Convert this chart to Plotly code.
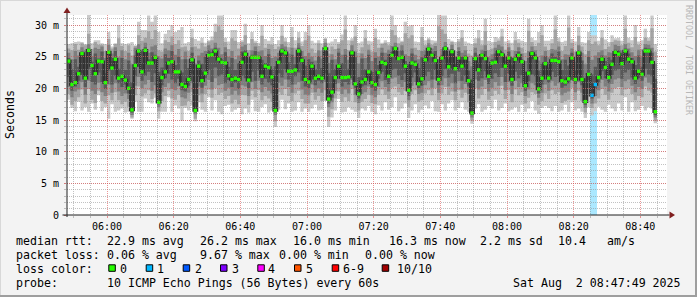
import plotly.graph_objects as go
import pandas as pd

# ---------------- data ----------------
START = "2025-08-02 05:48:00"
END = "2025-08-02 08:48:00"
Y_MAX = 31.58

median_ms = [
    24.3, 20.6, 20.9, 22.3, 25.5, 21.6, 26.0, 23.6, 22.3, 24.3, 24.2, 20.9, 25.7, 23.2, 24.6, 21.6, 21.9, 21.3, 20.0, 16.6,
    23.6, 25.9, 22.6, 26.0, 24.0, 24.0, 24.9, 17.8, 21.7, 22.6, 24.0, 24.2, 22.6, 22.6, 20.6, 20.3,
    21.4, 24.5, 16.5, 23.5, 21.2, 22.4, 25.2, 25.3, 25.9, 24.6, 24.1, 24.0, 22.0, 21.4, 21.6, 21.4, 24.1, 25.4, 21.3, 24.9,
    24.9, 24.9, 21.9, 23.5, 23.3, 21.8, 16.5, 24.1, 25.9, 25.6, 22.7, 22.7, 22.9, 25.9, 24.4, 21.4,
    21.0, 23.5, 21.6, 21.9, 21.6, 26.3, 18.3, 19.4, 21.7, 23.5, 21.7, 21.7, 21.8, 25.6, 20.7, 19.1, 21.0, 21.4, 22.6, 20.9,
    20.6, 22.5, 24.1, 23.9, 21.9, 25.2, 26.3, 24.7, 24.9, 23.5, 19.7, 24.0, 23.8, 20.7, 21.5, 24.5,
    26.2, 25.2, 24.4, 21.4, 24.8, 26.3, 23.4, 25.8, 23.1, 24.8, 23.5, 24.8, 21.2, 16.1, 24.7, 22.9, 25.2, 24.7, 21.9, 24.0,
    24.1, 25.8, 25.3, 23.5, 24.8, 21.4, 24.6, 25.2, 24.2, 20.4, 22.4, 25.5, 24.8, 19.9, 21.6, 23.9,
    21.6, 24.4, 24.4, 24.2, 21.2, 21.0, 21.5, 24.8, 21.4, 25.6, 21.4, 17.9, 22.2, 18.9, 20.6, 21.7, 24.6, 23.3, 21.7, 23.8,
    25.7, 25.4, 23.9, 25.9, 24.6, 24.2, 21.6, 22.7, 22.2, 25.9, 25.9, 24.1, 16.3,
]

# sorted ping values per minute (10 pings): p1 lowest ... p10 highest
ping_p10 = [
    27.0, 27.1, 27.3, 27.4, 27.3, 27.0, 31.6, 27.1, 27.6, 27.6, 27.1, 27.0, 28.9, 26.6, 27.1, 30.0, 27.1, 27.0, 27.1, 27.3,
    26.8, 30.5, 29.2, 29.2, 31.5, 30.5, 31.5, 28.9, 27.1, 28.6, 29.2, 30.0, 28.9, 29.2, 29.7, 27.1,
    27.3, 29.4, 27.8, 27.5, 28.0, 27.2, 27.6, 28.2, 30.2, 31.5, 31.5, 28.0, 27.4, 29.2, 29.2, 27.3, 27.6, 30.2, 27.1, 28.9,
    27.5, 27.2, 30.0, 27.8, 27.5, 28.1, 27.0, 27.6, 30.0, 28.0, 27.3, 29.7, 27.6, 28.9, 27.4, 28.9,
    30.0, 27.5, 27.2, 27.6, 27.1, 28.0, 27.2, 27.4, 27.8, 27.3, 28.5, 31.5, 27.6, 27.9, 30.0, 27.2, 27.4, 29.2, 27.5, 27.4,
    29.4, 27.7, 27.2, 27.6, 27.3, 31.5, 30.0, 28.0, 27.5, 30.5, 29.8, 30.0, 27.4, 27.3, 29.7, 27.6,
    28.0, 27.6, 27.5, 31.6, 31.5, 31.5, 27.8, 27.5, 27.3, 27.8, 29.2, 27.4, 27.2, 27.0, 27.9, 29.2, 27.6, 31.0, 27.5, 27.3,
    28.1, 27.9, 29.4, 27.4, 27.6, 27.2, 28.9, 27.8, 27.5, 27.3, 31.0, 28.0, 27.6, 28.9, 30.0, 27.5,
    27.5, 27.8, 31.5, 28.0, 27.3, 27.5, 31.5, 27.8, 27.4, 29.7, 27.3, 27.2, 28.9, 28.4, 28.4, 27.5, 29.2, 27.7, 27.3, 28.4,
    27.9, 28.0, 27.5, 31.5, 28.0, 27.6, 30.0, 27.4, 27.6, 29.4, 28.0, 31.5, 27.0,
]

ping_p9 = [
    26.3, 26.0, 27.0, 26.1, 27.1, 26.8, 28.6, 26.2, 27.3, 26.9, 26.9, 25.9, 27.8, 26.3, 27.0, 27.9, 26.7, 25.9, 26.8, 25.2,
    26.7, 28.4, 27.5, 28.0, 29.0, 27.8, 29.2, 26.0, 25.8, 27.6, 27.3, 28.2, 27.0, 27.6, 26.5, 26.6,
    25.9, 28.0, 26.6, 26.3, 27.2, 26.6, 27.4, 27.6, 28.9, 29.8, 29.2, 27.3, 26.2, 27.9, 27.5, 26.3, 27.3, 28.4, 26.0, 27.8,
    27.2, 26.7, 28.3, 26.4, 27.0, 26.9, 26.2, 26.6, 28.3, 27.4, 26.5, 28.1, 26.4, 28.0, 26.7, 27.6,
    28.3, 26.3, 25.6, 27.1, 25.9, 27.8, 25.5, 26.6, 26.2, 27.0, 27.6, 29.3, 26.0, 27.5, 28.2, 25.6, 26.5, 27.9, 26.9, 25.8,
    28.0, 26.4, 27.0, 27.2, 26.8, 29.2, 28.4, 27.1, 27.3, 28.7, 27.9, 28.4, 26.4, 26.0, 28.1, 26.8,
    27.7, 26.9, 27.2, 29.8, 29.3, 28.6, 26.2, 27.3, 25.9, 27.4, 28.0, 26.7, 25.5, 25.2, 27.1, 27.9, 26.8, 29.0, 26.0, 26.3,
    27.3, 27.5, 28.2, 26.1, 27.1, 26.0, 27.6, 27.2, 26.4, 25.6, 29.1, 27.3, 26.7, 27.2, 28.4, 26.6,
    26.0, 27.1, 29.3, 27.4, 25.9, 26.7, 29.6, 27.2, 25.8, 28.3, 26.6, 25.4, 27.6, 27.0, 27.4, 26.8, 28.0, 26.2, 26.6, 27.3,
    27.6, 27.5, 26.8, 29.4, 27.2, 26.5, 28.1, 26.9, 26.2, 28.0, 27.5, 29.5, 25.8,
]

ping_p8 = [
    25.6, 24.6, 25.9, 25.2, 26.5, 26.0, 27.0, 25.1, 26.4, 26.2, 26.6, 24.8, 26.9, 25.5, 26.5, 24.9, 26.0, 24.6, 25.6, 23.8,
    26.4, 27.0, 25.8, 27.2, 25.6, 26.6, 26.8, 24.9, 24.7, 26.3, 26.0, 26.8, 25.3, 26.2, 24.6, 25.8,
    24.6, 26.5, 23.9, 25.2, 25.6, 25.9, 26.8, 26.3, 27.2, 26.4, 25.4, 26.5, 25.0, 25.9, 24.6, 25.2, 26.6, 26.9, 24.7, 26.0,
    26.6, 25.8, 26.0, 25.1, 26.2, 24.8, 25.0, 25.6, 27.0, 26.6, 25.5, 26.4, 25.0, 27.1, 25.9, 25.1,
    25.6, 25.0, 24.4, 26.0, 24.7, 27.2, 24.0, 25.4, 24.6, 26.3, 25.3, 26.2, 24.5, 26.8, 25.8, 23.9, 25.5, 24.8, 26.1, 24.3,
    25.7, 25.0, 26.4, 25.6, 26.1, 26.7, 27.2, 25.9, 26.8, 25.4, 25.1, 26.3, 25.3, 24.6, 25.9, 26.0,
    27.1, 26.3, 26.7, 24.6, 26.2, 27.3, 25.4, 26.9, 25.0, 26.5, 25.6, 26.0, 24.3, 23.5, 26.4, 25.3, 26.1, 26.8, 24.9, 25.4,
    26.4, 26.9, 26.6, 25.2, 26.5, 24.9, 25.9, 26.5, 25.5, 24.3, 25.9, 26.6, 26.0, 24.4, 25.2, 25.9,
    24.9, 26.2, 26.1, 26.6, 24.6, 25.4, 25.3, 26.3, 24.2, 26.8, 25.6, 23.8, 25.9, 24.5, 25.2, 25.7, 26.0, 25.2, 25.7, 25.6,
    26.9, 26.7, 26.0, 27.0, 26.3, 25.7, 25.1, 26.1, 24.9, 27.0, 26.9, 26.4, 23.9,
]

ping_p7 = [
    24.8, 23.0, 24.6, 23.4, 25.8, 24.9, 26.3, 24.2, 25.5, 24.7, 25.8, 22.4, 26.0, 24.3, 25.9, 23.1, 24.8, 22.9, 24.4, 21.0,
    25.2, 26.2, 24.0, 26.5, 24.6, 25.7, 25.3, 22.6, 23.3, 25.4, 24.8, 25.9, 23.7, 25.0, 22.5, 24.6,
    23.2, 25.6, 20.8, 24.4, 23.9, 25.0, 26.0, 25.7, 26.4, 25.1, 24.6, 25.7, 23.4, 24.8, 22.9, 24.0, 25.8, 26.0, 22.8, 25.3,
    25.9, 25.2, 24.5, 24.0, 25.4, 23.0, 23.5, 24.7, 26.3, 26.0, 24.1, 25.3, 23.8, 26.4, 25.0, 23.6,
    24.6, 24.2, 23.0, 25.1, 23.2, 26.6, 22.4, 24.5, 23.0, 25.6, 24.0, 25.3, 23.1, 26.0, 24.9, 21.8, 24.7, 23.0, 25.3, 22.6,
    24.8, 23.7, 25.6, 24.5, 25.4, 25.8, 26.6, 25.0, 26.0, 24.3, 23.8, 25.5, 24.4, 23.2, 24.9, 25.3,
    26.5, 25.6, 25.9, 23.0, 25.3, 26.7, 24.6, 26.2, 24.0, 25.9, 24.5, 25.2, 22.8, 21.2, 25.6, 24.1, 25.5, 25.9, 23.5, 24.6,
    25.5, 26.1, 25.7, 24.4, 25.8, 23.6, 25.0, 25.8, 24.6, 22.6, 24.8, 25.9, 25.4, 22.8, 23.9, 25.1,
    23.3, 25.5, 25.0, 25.8, 22.9, 24.5, 23.6, 25.6, 22.8, 26.0, 24.4, 21.6, 25.0, 22.2, 23.4, 24.8, 25.2, 24.3, 24.9, 24.5,
    26.1, 26.0, 25.3, 26.3, 25.5, 24.8, 23.7, 25.2, 23.4, 26.4, 26.3, 25.6, 21.5,
]

ping_p4 = [
    21.8, 19.6, 20.3, 21.2, 22.4, 20.2, 23.0, 21.0, 20.6, 22.5, 21.0, 19.9, 22.8, 20.6, 22.0, 20.8, 20.2, 20.6, 19.2, 16.2,
    21.9, 23.4, 21.2, 22.0, 22.6, 21.0, 22.4, 17.5, 20.5, 21.6, 22.3, 21.4, 20.8, 21.5, 19.7, 19.5,
    20.4, 22.3, 16.2, 21.8, 20.1, 21.6, 22.9, 21.0, 23.3, 21.9, 22.2, 20.8, 21.3, 20.2, 20.9, 19.9, 22.0, 21.6, 20.0, 22.6,
    21.2, 22.8, 20.6, 21.5, 20.9, 20.5, 16.2, 22.4, 21.7, 23.0, 21.4, 20.6, 21.9, 22.5, 21.2, 20.3,
    20.0, 21.9, 20.5, 21.2, 20.8, 22.4, 17.6, 18.5, 20.7, 22.2, 20.3, 21.0, 20.6, 22.8, 20.1, 18.4, 20.3, 20.5, 21.6, 20.1,
    19.6, 21.5, 22.6, 21.3, 20.7, 22.9, 23.1, 22.0, 21.3, 22.4, 18.8, 21.7, 22.5, 20.0, 20.4, 21.9,
    22.6, 21.4, 22.9, 20.5, 21.9, 23.0, 21.7, 22.3, 20.8, 22.6, 21.2, 22.0, 20.3, 15.8, 22.8, 21.2, 21.6, 22.7, 20.7, 21.5,
    22.4, 21.8, 23.2, 21.0, 22.3, 20.4, 22.6, 21.6, 22.1, 19.6, 21.1, 22.2, 21.9, 19.2, 20.6, 22.0,
    20.9, 22.6, 21.8, 22.0, 20.1, 20.4, 20.8, 22.9, 20.7, 22.4, 20.5, 17.4, 21.3, 18.4, 19.9, 20.9, 22.7, 21.6, 20.8, 22.1,
    22.8, 23.0, 21.5, 22.5, 22.9, 21.7, 20.7, 21.6, 21.2, 23.1, 22.2, 21.9, 15.8,
]

ping_p3 = [
    20.2, 18.6, 19.5, 19.8, 21.0, 19.0, 21.2, 19.6, 19.1, 20.9, 19.4, 18.8, 20.6, 19.3, 20.8, 19.5, 18.8, 19.2, 18.3, 15.8,
    20.4, 21.8, 20.0, 20.6, 21.3, 19.6, 20.5, 17.0, 19.4, 20.2, 20.8, 19.9, 19.7, 20.3, 18.6, 18.4,
    19.3, 20.8, 15.9, 20.3, 19.2, 20.4, 21.3, 19.8, 21.6, 20.5, 20.7, 19.6, 20.1, 19.0, 19.6, 18.9, 20.5, 20.3, 18.8, 21.0,
    19.9, 21.2, 19.4, 20.2, 19.6, 19.2, 15.8, 20.9, 20.4, 21.4, 20.2, 19.3, 20.6, 21.0, 19.8, 19.0,
    18.9, 20.6, 19.4, 20.0, 19.3, 21.0, 17.0, 17.8, 19.6, 20.8, 19.1, 19.8, 19.2, 21.3, 19.0, 17.7, 19.1, 19.4, 20.3, 18.9,
    18.6, 20.2, 21.1, 20.2, 19.5, 21.5, 21.7, 20.7, 20.2, 21.0, 18.1, 20.4, 21.0, 19.1, 19.3, 20.5,
    21.1, 20.1, 21.4, 19.3, 20.5, 21.6, 20.3, 20.8, 19.5, 21.1, 19.8, 20.7, 19.1, 15.4, 21.4, 19.8, 20.3, 21.3, 19.5, 20.1,
    21.0, 20.4, 21.8, 19.7, 21.0, 19.1, 21.2, 20.2, 20.8, 18.8, 19.8, 20.8, 20.5, 18.5, 19.3, 20.6,
    19.6, 21.1, 20.4, 20.8, 18.9, 19.3, 19.5, 21.5, 19.4, 21.0, 19.3, 16.9, 20.0, 17.6, 18.8, 19.7, 21.3, 20.3, 19.5, 20.7,
    21.4, 21.6, 20.2, 21.1, 21.4, 20.4, 19.4, 20.2, 19.9, 21.7, 20.9, 20.6, 15.4,
]

ping_p2 = [
    19.1, 17.4, 18.0, 18.6, 19.8, 17.6, 19.9, 18.2, 17.7, 19.6, 18.0, 17.6, 18.9, 18.1, 19.4, 18.1, 17.5, 17.9, 17.1, 15.4,
    18.9, 20.3, 18.7, 19.2, 19.7, 18.3, 19.2, 16.4, 18.0, 18.8, 19.6, 18.4, 18.2, 19.0, 17.2, 17.3,
    18.0, 19.4, 15.2, 18.9, 17.8, 19.1, 19.8, 18.5, 20.0, 19.0, 19.3, 18.3, 18.8, 17.6, 18.2, 17.5, 19.0, 18.9, 17.4, 19.6,
    18.6, 19.7, 18.1, 18.8, 18.4, 17.9, 14.8, 19.4, 19.0, 19.9, 18.8, 18.0, 19.2, 19.6, 18.3, 17.6,
    17.6, 19.3, 18.2, 18.8, 18.0, 19.7, 15.5, 16.7, 18.4, 19.5, 17.9, 18.6, 18.0, 19.9, 17.8, 16.5, 17.9, 18.3, 19.0, 17.7,
    17.5, 19.0, 19.8, 19.0, 18.3, 20.1, 20.3, 19.4, 19.0, 19.6, 17.0, 19.1, 19.7, 17.9, 18.1, 19.2,
    19.7, 18.9, 20.0, 18.1, 19.2, 20.2, 19.0, 19.5, 18.1, 19.7, 18.5, 19.3, 17.8, 14.9, 20.0, 18.4, 19.0, 19.9, 18.2, 18.8,
    19.6, 19.1, 20.4, 18.3, 19.7, 17.8, 19.8, 18.9, 19.4, 17.6, 18.5, 19.4, 19.1, 17.4, 18.0, 19.2,
    18.3, 19.7, 19.1, 19.4, 17.7, 18.0, 18.2, 20.1, 18.1, 19.6, 18.0, 16.2, 18.7, 16.9, 17.6, 18.4, 19.9, 19.0, 18.2, 19.3,
    20.0, 20.2, 18.9, 19.8, 20.0, 19.1, 18.1, 18.8, 18.6, 20.3, 19.6, 19.3, 14.9,
]

ping_p1 = [
    18.2, 16.9, 16.4, 17.9, 16.5, 17.0, 16.3, 17.6, 16.6, 18.9, 16.4, 17.0, 15.2, 17.5, 16.3, 16.5, 16.8, 16.2, 16.3, 15.2,
    17.9, 16.3, 16.3, 18.4, 17.8, 17.6, 18.5, 15.2, 16.3, 16.3, 18.6, 16.3, 17.3, 16.8, 14.9, 16.9,
    16.5, 17.3, 14.8, 17.8, 16.6, 16.3, 18.6, 16.5, 18.1, 16.3, 15.9, 17.2, 17.4, 16.3, 16.6, 16.9, 15.9, 16.8, 16.2, 18.2,
    16.4, 16.3, 17.0, 17.5, 16.2, 16.5, 13.9, 16.6, 18.2, 16.7, 17.6, 16.3, 16.5, 17.8, 16.3, 16.8,
    16.3, 16.8, 17.4, 16.5, 16.6, 18.0, 13.9, 15.4, 16.5, 18.3, 16.2, 16.3, 17.0, 16.6, 16.3, 15.3, 16.8, 16.5, 17.2, 16.3,
    15.9, 17.3, 16.5, 17.8, 16.6, 17.0, 18.6, 16.4, 16.8, 17.6, 15.3, 16.5, 17.5, 16.2, 16.6, 17.3,
    16.8, 18.0, 16.4, 16.3, 17.5, 16.5, 17.6, 18.1, 16.5, 16.9, 17.8, 16.6, 16.3, 14.4, 16.8, 17.5, 16.3, 16.6, 17.2, 16.8,
    18.2, 16.5, 16.9, 17.6, 16.4, 16.6, 17.0, 16.3, 17.4, 16.3, 16.8, 18.0, 16.5, 16.0, 16.9, 17.2,
    16.9, 16.4, 17.2, 16.3, 16.5, 17.4, 16.3, 17.8, 16.5, 16.8, 16.3, 15.3, 17.0, 15.7, 16.4, 17.1, 16.6, 16.3, 17.4, 16.8,
    16.4, 17.6, 16.5, 18.6, 16.3, 17.8, 16.4, 16.6, 17.2, 16.5, 17.0, 16.8, 14.5,
]

loss_times = ["2025-08-02 08:25:00", "2025-08-02 08:26:00"]
loss_levels = [1, 1]

loss_labels = ["0", "1", "2", "3", "4", "5", "6-9", "10/10"]
loss_colors = ["#26ff00", "#00b8ff", "#0059ff", "#7e00ff", "#ff00ff", "#ff5500", "#ff0000", "#a10000"]

y_tick_vals = [0, 5, 10, 15, 20, 25, 30]
y_tick_text = ["0", "5 m", "10 m", "15 m", "20 m", "25 m", "30 m"]

rtt_stats = ["22.9 ms avg", "26.2 ms max", "16.0 ms min", "16.3 ms now", "2.2 ms sd", "10.4", "am/s"]
loss_stats = ["0.06 % avg", "9.67 % max", "0.00 % min", "0.00 % now"]
probe_text = "10 ICMP Echo Pings (56 Bytes) every 60s"
stamp_text = "Sat Aug\u00a0 2 08:47:49 2025"

# ---------------- derived ----------------
n = min(len(median_ms), len(ping_p1), len(ping_p2), len(ping_p3), len(ping_p4),
        len(ping_p7), len(ping_p8), len(ping_p9), len(ping_p10))
t0 = pd.Timestamp(START)
starts = [t0 + pd.Timedelta(minutes=i) for i in range(n)]
edges = starts + [t0 + pd.Timedelta(minutes=n)]
centers = [s + pd.Timedelta(seconds=30) for s in starts]

loss_per_min = [0] * n
for t, lv in zip(loss_times, loss_levels):
    k = int((pd.Timestamp(t) - t0) / pd.Timedelta(minutes=1))
    if 0 <= k < n:
        loss_per_min[k] = lv


def loss_color(lv):
    if lv <= 5:
        return loss_colors[lv]
    if lv < 10:
        return loss_colors[6]
    return loss_colors[7]


def ext(a):
    a = list(a[:n])
    return a + [a[-1]]


FONT = "DejaVu Sans Mono"
L, R, T, B = 67, 30, 15, 82
W, H = 697, 297
PW, PH = W - L - R, H - T - B


def px(x):
    return (x - L) / PW


def py(y):
    return (T + PH - y) / PH


fig = go.Figure()

# loss background
lk = [i for i in range(n) if loss_per_min[i] > 0]
fig.add_trace(go.Bar(
    x=[centers[i] for i in lk], y=[Y_MAX] * len(lk), base=0, width=60000,
    marker=dict(color=[loss_color(loss_per_min[i]) for i in lk], opacity=0.33, line=dict(width=0)),
    hoverinfo="skip", showlegend=False))

# smoke
bands = [(ping_p1, ping_p10, "#cacaca"), (ping_p2, ping_p9, "#a4a4a4"),
         (ping_p3, ping_p8, "#7e7e7e"), (ping_p4, ping_p7, "#585858")]
for lo, hi, col in bands:
    fig.add_trace(go.Scatter(x=edges, y=ext(lo), mode="lines", line=dict(width=0, shape="hv"),
                             hoverinfo="skip", showlegend=False))
    fig.add_trace(go.Scatter(x=edges, y=ext(hi), mode="lines", line=dict(width=0, shape="hv"),
                             fill="tonexty", fillcolor=col, hoverinfo="skip", showlegend=False))

# median step line
fig.add_trace(go.Scatter(x=edges, y=ext(median_ms), mode="lines",
                         line=dict(color="#323232", width=2.6, shape="hv"),
                         hoverinfo="skip", showlegend=False))
# median marks coloured by loss
fig.add_trace(go.Scatter(x=centers, y=median_ms[:n], mode="markers",
                         marker=dict(symbol="square", size=3.4,
                                     color=[loss_color(v) for v in loss_per_min],
                                     line=dict(width=0)),
                         hoverinfo="skip", showlegend=False))

# dummy trace on the grid subplot (drawn above)
fig.add_trace(go.Scatter(x=[START], y=[0], xaxis="x2", yaxis="y2", mode="markers",
                         marker=dict(opacity=0), hoverinfo="skip", showlegend=False))

MAJ = "rgba(223,80,80,0.6)"
MIN = "rgba(143,143,143,0.55)"

fig.update_layout(
    width=W, height=H, margin=dict(l=L, r=R, t=T, b=B, pad=0),
    paper_bgcolor="#f3f3f3", plot_bgcolor="rgba(0,0,0,0)",
    showlegend=False, barmode="overlay", bargap=0,
    xaxis=dict(type="date", range=[START, END], visible=False, domain=[0, 1], fixedrange=True),
    yaxis=dict(range=[0, Y_MAX], visible=False, domain=[0, 1], fixedrange=True),
    xaxis2=dict(type="date", range=[START, END], anchor="y2", domain=[0, 1],
                tickmode="linear", tick0="2025-08-02 06:00:00", dtick=20 * 60 * 1000,
                tickformat="%H:%M", showgrid=True, gridcolor=MAJ, griddash="1px,1px", gridwidth=1,
                ticks="outside", ticklen=2, tickcolor=MAJ, zeroline=False, showline=False,
                tickfont=dict(family=FONT, size=10, color="#000"),
                minor=dict(tickmode="linear", tick0="2025-08-02 05:50:00", dtick=5 * 60 * 1000,
                           showgrid=True, gridcolor=MIN, griddash="1px,1px",
                           ticks="outside", ticklen=2, tickcolor=MIN),
                fixedrange=True),
    yaxis2=dict(range=[0, Y_MAX], anchor="x2", domain=[0, 1],
                tickmode="array", tickvals=y_tick_vals, ticktext=y_tick_text,
                showgrid=True, gridcolor=MAJ, griddash="1px,1px", gridwidth=1,
                ticks="outside", ticklen=2, tickcolor=MAJ, zeroline=False, showline=False,
                ticklabelstandoff=3,
                tickfont=dict(family=FONT, size=10, color="#000"),
                minor=dict(tickmode="linear", tick0=0, dtick=1, showgrid=True, gridcolor=MIN,
                           griddash="1px,1px", ticks="outside", ticklen=2, tickcolor=MIN),
                fixedrange=True),
)

shapes = []
# white canvas below everything
shapes.append(dict(type="rect", xref="paper", yref="paper", x0=0, x1=1, y0=0, y1=1,
                   fillcolor="#ffffff", line=dict(width=0), layer="below"))
# frame (3d look)
shapes.append(dict(type="line", xref="paper", yref="paper", x0=px(0), x1=px(W), y0=py(0.5), y1=py(0.5),
                   line=dict(color="#d8d8d8", width=1), layer="above"))
shapes.append(dict(type="line", xref="paper", yref="paper", x0=px(0.5), x1=px(0.5), y0=py(0), y1=py(H),
                   line=dict(color="#d8d8d8", width=1), layer="above"))
shapes.append(dict(type="line", xref="paper", yref="paper", x0=px(0), x1=px(W), y0=py(H - 1), y1=py(H - 1),
                   line=dict(color="#9e9e9e", width=2), layer="above"))
shapes.append(dict(type="line", xref="paper", yref="paper", x0=px(W - 1), x1=px(W - 1), y0=py(0), y1=py(H),
                   line=dict(color="#9e9e9e", width=2), layer="above"))
# axes
AX = "#202020"
ARROW = "#801f1f"
shapes.append(dict(type="line", xref="paper", yref="paper", x0=px(62.5), x1=px(669.5), y0=py(215), y1=py(215),
                   line=dict(color=AX, width=1), layer="above"))
shapes.append(dict(type="line", xref="paper", yref="paper", x0=px(67), x1=px(67), y0=py(217), y1=py(12.5),
                   line=dict(color=AX, width=1), layer="above"))
shapes.append(dict(type="path", xref="paper", yref="paper",
                   path=f"M {px(67)},{py(7.5)} L {px(63.5)},{py(13)} L {px(70.5)},{py(13)} Z",
                   fillcolor=ARROW, line=dict(width=0), layer="above"))
shapes.append(dict(type="path", xref="paper", yref="paper",
                   path=f"M {px(675)},{py(215)} L {px(669.5)},{py(211.5)} L {px(669.5)},{py(218.5)} Z",
                   fillcolor=ARROW, line=dict(width=0), layer="above"))

annotations = []


def txt(x, y, s, size=11.6, color="#000", **kw):
    d = dict(xref="paper", yref="paper", x=px(x), y=py(y), text=s, showarrow=False,
             xanchor="left", yanchor="middle", borderpad=0, borderwidth=0,
             font=dict(family=FONT, size=size, color=color))
    d.update(kw)
    annotations.append(d)


# axis title and watermark
txt(10, 115, "Seconds", textangle=-90, xanchor="center")
txt(689, 60, "RRDTOOL / TOBI OETIKER", size=8.3, color="#b8b8b8", textangle=90, xanchor="center")

ROW = [241, 255.4, 269, 283.3]
txt(16, ROW[0], "median rtt:")
for x, s in zip([107.3, 200, 292.7, 389.3, 480, 558.3, 606.7], rtt_stats):
    txt(x, ROW[0], s)
txt(16, ROW[1], "packet loss:")
for x, s in zip([107.3, 200, 279.3, 365], loss_stats):
    txt(x, ROW[1], s)
txt(16, ROW[2], "loss color:")
box_x = [108.3, 145.7, 182.7, 220, 257.3, 294, 331.7, 381.7]
lab_x = [120, 157.3, 195, 231.7, 268.3, 305.7, 343.3, 396.7]
for bx, lx, lab, col in zip(box_x, lab_x, loss_labels, loss_colors):
    shapes.append(dict(type="rect", xref="paper", yref="paper", x0=px(bx + 0.5), x1=px(bx + 7),
                       y0=py(271.3), y1=py(264.8), fillcolor=col, line=dict(color="#000", width=1),
                       layer="above"))
    txt(lx, ROW[2], lab)
txt(16, ROW[3], "probe:")
txt(107.3, ROW[3], probe_text)
txt(513.3, ROW[3], stamp_text)

fig.update_layout(shapes=shapes, annotations=annotations)
fig.write_html("out.html", config={"displayModeBar": False, "staticPlot": True})
